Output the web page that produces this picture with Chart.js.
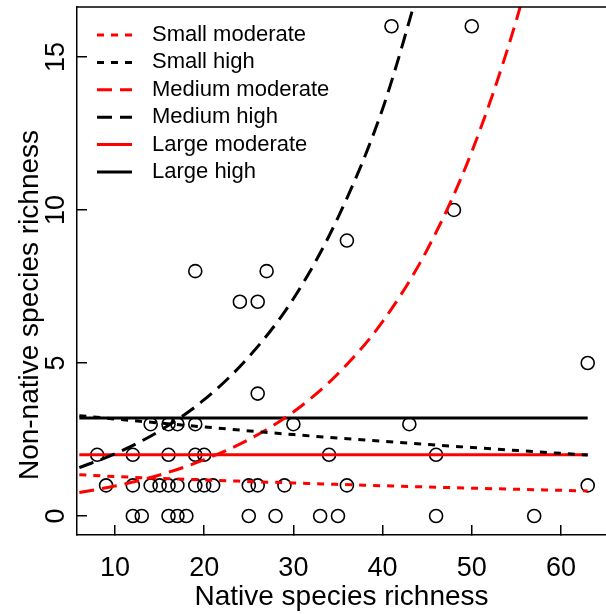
<!DOCTYPE html>
<html>
<head>
<meta charset="utf-8">
<script src="https://cdn.jsdelivr.net/npm/chart.js@4.4.0/dist/chart.umd.min.js"></script>
<style>
  html, body { margin: 0; padding: 0; background: #fff; }
</style>
</head>
<body>
<canvas id="chart" width="606" height="614"></canvas>
<script>
// observed plots: native vs non-native species richness
const nativeRichness = [
  12, 13, 16, 17, 18, 25, 28, 33, 35, 46, 57,
  9, 12, 14, 15, 16, 17, 19, 20, 21, 25, 26, 29, 36, 63,
  8, 12, 16, 19, 20, 34, 46,
  14, 16, 17, 19, 30, 43,
  26, 63, 24, 26, 19, 27, 36, 48, 41, 50
];
const nonNativeRichness = [
  0, 0, 0, 0, 0, 0, 0, 0, 0, 0, 0,
  1, 1, 1, 1, 1, 1, 1, 1, 1, 1, 1, 1, 1, 1,
  2, 2, 2, 2, 2, 2, 2,
  3, 3, 3, 3, 3, 3,
  4, 5, 7, 7, 8, 8, 9, 10, 16, 16
];

// fitted curves
const fitX = [6, 10, 20, 30, 40, 50, 63];
const smallModerate = [1.35, 1.29, 1.18, 1.08, 0.99, 0.91, 0.82];
const smallHigh = [3.28, 3.17, 2.91, 2.66, 2.44, 2.24, 1.99];
const mediumModX = [6, 10, 15, 20, 25, 30, 35, 40, 45, 50, 55, 58];
const mediumModerate = [0.77, 0.98, 1.34, 1.84, 2.5, 3.4, 4.65, 6.35, 8.7, 11.9, 16.2, 19.5];
const mediumHighX = [6, 10, 15, 20, 25, 30, 35, 40, 45];
const mediumHigh = [1.58, 2.03, 2.78, 3.8, 5.2, 7.1, 9.75, 13.3, 18.2];
const flatX = [6, 63];
const largeModerate = [2, 2];
const largeHigh = [3.2, 3.2];

const xTicks = [10, 20, 30, 40, 50, 60];
const yTicks = [0, 5, 10, 15];

const FONT = '"Liberation Sans", Arial, Helvetica, sans-serif';
const RED = '#ff0000';

const pts = (xs, ys) => xs.map((x, i) => ({ x: x, y: ys[i] }));

function curve(label, xs, ys, color, dash) {
  return {
    label: label,
    data: pts(xs, ys),
    showLine: true,
    borderColor: color,
    borderWidth: 3,
    borderDash: dash,
    pointRadius: 0,
    cubicInterpolationMode: 'monotone',
    fill: false
  };
}

const datasets = [
  curve('Small moderate', fitX, smallModerate, RED, [7, 7]),
  curve('Small high', fitX, smallHigh, '#000', [7, 7]),
  curve('Medium moderate', mediumModX, mediumModerate, RED, [15, 8]),
  curve('Medium high', mediumHighX, mediumHigh, '#000', [15, 8]),
  curve('Large moderate', flatX, largeModerate, RED, []),
  curve('Large high', flatX, largeHigh, '#000', []),
  {
    label: 'plots',
    data: pts(nativeRichness, nonNativeRichness),
    pointRadius: 6.5,
    pointBorderWidth: 1.6,
    borderColor: '#000',
    backgroundColor: 'rgba(0,0,0,0)',
    showLine: false
  }
];

// box top, rotated y labels, y title and the legend, R style
const extras = {
  id: 'extras',
  afterDraw(chart) {
    const { ctx, chartArea: a } = chart;
    const y = chart.scales.y;
    ctx.save();
    ctx.strokeStyle = '#000';
    ctx.lineWidth = 1.5;
    ctx.beginPath();
    ctx.moveTo(a.left, a.top);
    ctx.lineTo(a.right, a.top);
    ctx.stroke();

    ctx.fillStyle = '#000';
    ctx.font = '27px ' + FONT;
    ctx.textAlign = 'center';
    ctx.textBaseline = 'middle';
    y.ticks.forEach(t => {
      ctx.save();
      ctx.translate(57, y.getPixelForValue(t.value));
      ctx.rotate(-Math.PI / 2);
      ctx.fillText(String(t.value), 0, 0);
      ctx.restore();
    });

    ctx.save();
    ctx.font = '28px ' + FONT;
    ctx.translate(30, 305);
    ctx.rotate(-Math.PI / 2);
    ctx.fillText('Non-native species richness', 0, 0);
    ctx.restore();

    ctx.font = '22px ' + FONT;
    ctx.textAlign = 'left';
    chart.data.datasets.slice(0, 6).forEach((ds, i) => {
      const ry = a.top + 28 + i * 27.4;
      ctx.strokeStyle = ds.borderColor;
      ctx.lineWidth = ds.borderWidth;
      ctx.setLineDash(ds.borderDash);
      ctx.beginPath();
      ctx.moveTo(a.left + 20, ry);
      ctx.lineTo(a.left + 55, ry);
      ctx.stroke();
      ctx.setLineDash([]);
      ctx.fillText(ds.label, a.left + 75, ry);
    });
    ctx.restore();
  }
};

new Chart(document.getElementById('chart'), {
  type: 'scatter',
  data: { datasets: datasets },
  plugins: [extras],
  options: {
    responsive: false,
    animation: false,
    devicePixelRatio: 1,
    layout: { autoPadding: false, padding: { top: 7, right: 0, bottom: 0, left: 0 } },
    plugins: { legend: { display: false }, tooltip: { enabled: false } },
    scales: {
      x: {
        type: 'linear',
        min: 5.74,
        max: 65.05,
        afterBuildTicks: s => { s.ticks = xTicks.map(v => ({ value: v })); },
        afterFit: s => { s.height = 79; },
        grid: { drawOnChartArea: false, tickLength: -10, color: '#000', lineWidth: 1.5 },
        border: { color: '#000', width: 1.5 },
        ticks: { color: '#000', font: { size: 27, family: FONT }, padding: 27, maxRotation: 0 },
        title: {
          display: true,
          text: 'Native species richness',
          color: '#000',
          font: { size: 28, family: FONT },
          padding: { top: 0, bottom: 0 }
        }
      },
      y: {
        type: 'linear',
        min: -0.62,
        max: 16.63,
        afterBuildTicks: s => { s.ticks = yTicks.map(v => ({ value: v })); },
        afterFit: s => { s.width = 77; },
        grid: { drawOnChartArea: false, tickLength: -10, color: '#000', lineWidth: 1.5 },
        border: { color: '#000', width: 1.5 },
        ticks: { display: false }
      }
    }
  }
});
</script>
</body>
</html>
